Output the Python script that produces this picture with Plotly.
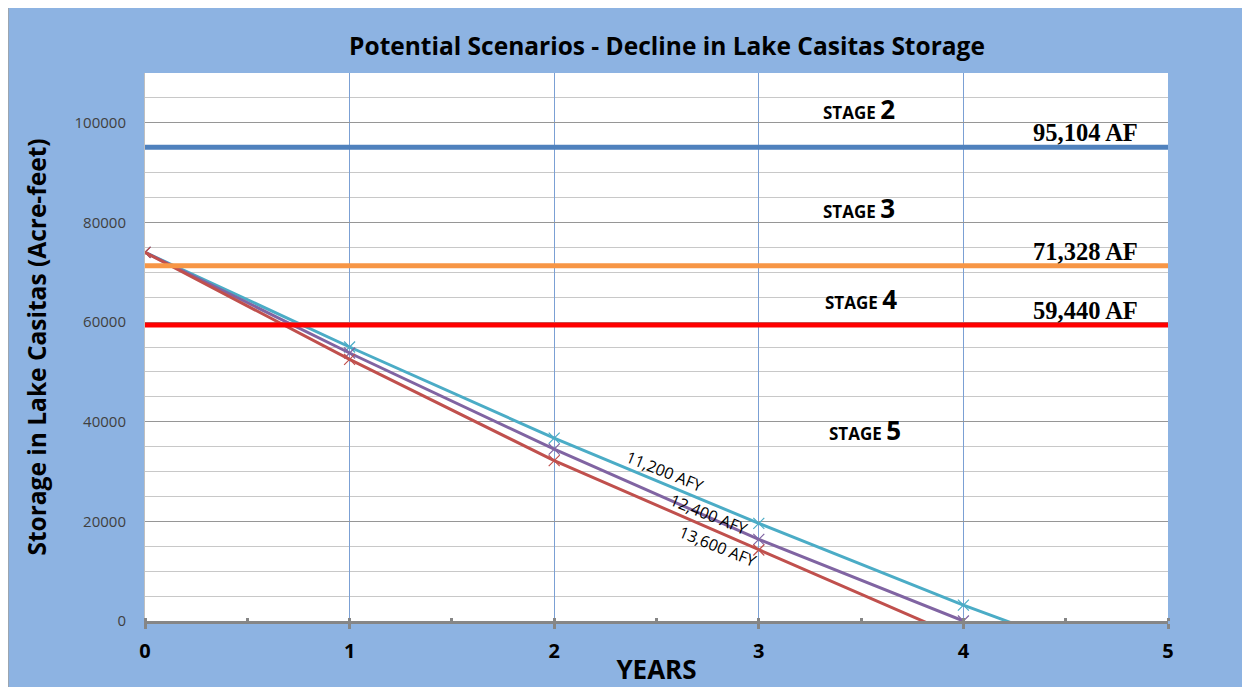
import plotly.graph_objects as go

# ---------------- data ----------------
years = [0, 1, 2, 3, 4, 5]
scen_labels = ["11,200 AFY", "12,400 AFY", "13,600 AFY"]
scen_11200 = [74000, 55000, 36700, 19600, 3200, -12000]
scen_12400 = [74000, 53800, 34500, 16400, 0]
scen_13600 = [74000, 52500, 32200, 14250, -3550]
scen_colors = ["#4BACC6", "#8064A2", "#C0504D"]

thresholds = [95104, 71328, 59440]
threshold_labels = ["95,104 AF", "71,328 AF", "59,440 AF"]
threshold_colors = ["#4F81BD", "#F79646", "#FF0000"]

stage_numbers = ["2", "3", "4", "5"]

title_text = "Potential Scenarios - Decline in Lake Casitas Storage"
x_title = "YEARS"
y_title = "Storage in Lake Casitas (Acre-feet)"

SANS = "Open Sans, Liberation Sans, sans-serif"
SERIF = "Liberation Serif, Times New Roman, serif"

fig = go.Figure()

# scenario lines
scen_values = [scen_11200, scen_12400, scen_13600]
for name, vals, col in zip(scen_labels, scen_values, scen_colors):
    fig.add_trace(go.Scatter(
        x=years[:len(vals)], y=vals, name=name, mode="lines+markers",
        line=dict(color=col, width=3),
        marker=dict(symbol="x-thin", size=11, line=dict(color=col, width=1.2)),
    ))

# threshold lines (drawn above scenarios)
for val, lab, col in zip(thresholds, threshold_labels, threshold_colors):
    fig.add_trace(go.Scatter(
        x=[years[0], years[-1]], y=[val, val], name=lab, mode="lines",
        line=dict(color=col, width=5), hoverinfo="name+y",
    ))

annotations = []
# threshold labels
for val, lab in zip(thresholds, threshold_labels):
    annotations.append(dict(
        x=4.863, y=val, xref="x", yref="y", text="<b>" + lab + "</b>",
        showarrow=False, xanchor="right", yanchor="bottom", yshift=-1,
        font=dict(family=SERIF, size=24.5, color="black"),
    ))

# stage labels
stage_pos = [(3.49, 102800), (3.49, 82930), (3.50, 64660), (3.52, 38350)]
for num, (sx, sy) in zip(stage_numbers, stage_pos):
    annotations.append(dict(
        x=sx, y=sy, xref="x", yref="y",
        text="<b>STAGE <span style='font-size:26px'>" + num + "</span></b>",
        showarrow=False, xanchor="center", yanchor="middle",
        font=dict(family=SANS, size=17, color="black"),
    ))

# scenario labels along lines
scen_label_pos = [(2.537, 30100), (2.752, 21490), (2.796, 15060)]
for lab, (lx, ly) in zip(scen_labels, scen_label_pos):
    annotations.append(dict(
        x=lx, y=ly, xref="x", yref="y", text=lab, textangle=22,
        showarrow=False, xanchor="center", yanchor="middle",
        font=dict(family=SANS, size=16, color="black"),
    ))

# page has an 8px body margin, so the figure starts at (8, 8) on screen
W, H = 1242, 679
L, R, T, B = 137, 82, 65, 66

shapes = [
    dict(type="line", xref="paper", yref="paper", x0=-L / (W - L - R), x1=-L / (W - L - R),
         y0=-B / (H - T - B), y1=(H - B) / (H - T - B),
         line=dict(color="#A0A0A0", width=1.5), layer="above"),
]

fig.update_layout(
    width=W, height=H,
    margin=dict(l=L, r=R, t=T, b=B, pad=0, autoexpand=False),
    paper_bgcolor="#8DB3E2", plot_bgcolor="white",
    showlegend=False,
    title=dict(text="<b>" + title_text + "</b>", x=659 / W, xref="container",
               y=1 - 38 / H, yref="container", xanchor="center", yanchor="middle",
               font=dict(family=SANS, size=24.5, color="black")),
    xaxis=dict(
        range=[0, 5], tick0=0, dtick=1, showgrid=True, gridcolor="#7BA0D4", gridwidth=1,
        zeroline=False, showline=True, linecolor="#868686", linewidth=3,
        ticks="outside", ticklen=5, tickwidth=3, tickcolor="#868686",
        minor=dict(dtick=0.5, ticks="inside", ticklen=3, tickwidth=3,
                   tickcolor="#868686", showgrid=False),
        tickfont=dict(family=SANS, size=20, color="black", weight="bold"),
        ticklabelstandoff=5, automargin=False,
        title=dict(text="<b>" + x_title + "</b>", standoff=13,
                   font=dict(family=SANS, size=26, color="black")),
    ),
    yaxis=dict(
        range=[0, 110000], tick0=0, dtick=20000, tickformat="d",
        showgrid=True, gridcolor="#969696", gridwidth=1,
        minor=dict(dtick=5000, showgrid=True, gridcolor="#C8C8C8", gridwidth=1),
        zeroline=False, showline=True, linecolor="#BFBFBF", linewidth=1,
        ticks="", ticklabelstandoff=15, automargin=False,
        tickfont=dict(family=SANS, size=15, color="#404040"),
        title=dict(text="<b>" + y_title + "</b>", standoff=20,
                   font=dict(family=SANS, size=24.5, color="black")),
    ),
    annotations=annotations,
    shapes=shapes,
)

fig.write_html(
    "out.html",
    post_script="document.documentElement.style.overflow='hidden';document.body.style.overflow='hidden';",
)
